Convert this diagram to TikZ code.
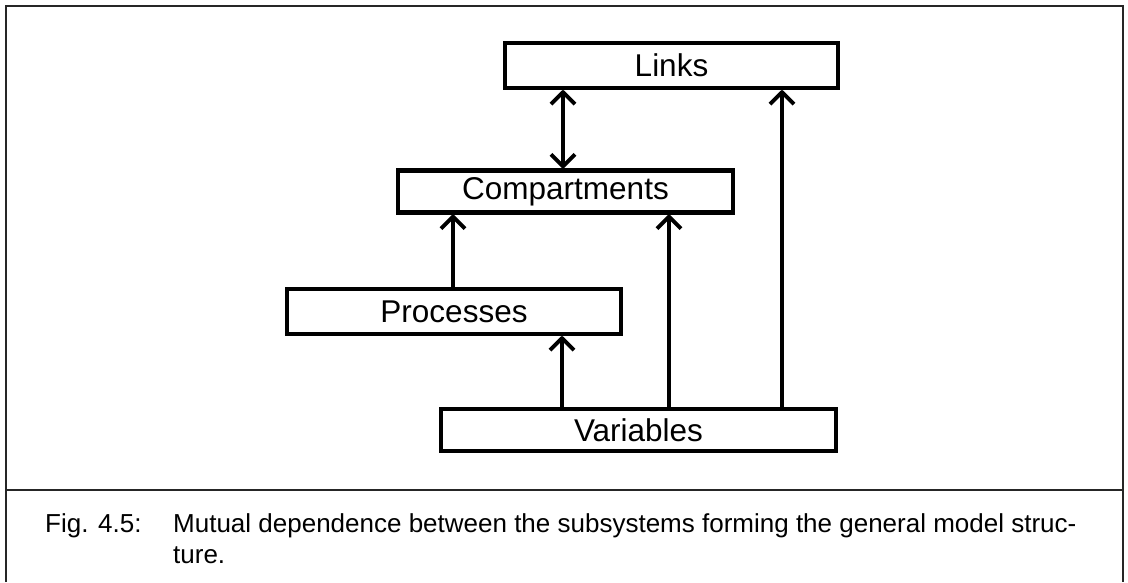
\documentclass[tikz,border=0pt]{standalone}
\usepackage{fontspec}
\setmainfont{Liberation Sans}
\usetikzlibrary{arrows.meta}
\begin{document}
\begin{tikzpicture}[x=1pt,y=-1pt,
  frame/.style={line width=1.8pt,black!85},
  subsys/.style={draw,line width=4.2pt,rectangle,inner sep=0pt,
    font=\fontsize{31.5}{35}\selectfont},
  barb/.tip={Straight Barb[length=12pt,width=24pt,line join=round]},
  dep/.style={line width=4pt,-barb},
  mutual/.style={line width=4pt,barb-barb},
  captext/.style={inner sep=0pt,anchor=base west,font=\fontsize{26}{31}\selectfont}]
  \useasboundingbox (0,0) rectangle (1128,582);
  % outer frame and caption divider
  \draw[frame] (6,582) -- (6,6) -- (1123,6) -- (1123,582);
  \draw[frame] (6,490) -- (1123,490);

  % subsystem boxes
  \node[subsys,minimum width=333pt,minimum height=45pt] (links) at (671.5,65.5) {Links};
  \node[subsys,minimum width=335pt,minimum height=42pt] (comp) at (565.5,191.5) {Compartments};
  \node[subsys,minimum width=334pt,minimum height=45pt] (proc) at (454,311.5) {Processes};
  \node[subsys,minimum width=395pt,minimum height=42pt] (vars) at (638.5,430) {Variables};

  % x positions of the connectors
  \coordinate (xa) at (563,0);
  \coordinate (xb) at (453,0);
  \coordinate (xc) at (562,0);
  \coordinate (xd) at (669,0);
  \coordinate (xe) at (782,0);

  % dependences
  \draw[mutual] (comp.north -| xa) -- (links.south -| xa);
  \draw[dep] (proc.north -| xb) -- (comp.south -| xb);
  \draw[dep] (vars.north -| xc) -- (proc.south -| xc);
  \draw[dep] (vars.north -| xd) -- (comp.south -| xd);
  \draw[dep] (vars.north -| xe) -- (links.south -| xe);

  % caption
  \node[captext] (figno) at (45,532) {Fig. 4.5:};
  \node[captext] (capa) at (173,532) {Mutual dependence between the subsystems forming the general model struc-};
  \node[captext] (capb) at (173,563) {ture.};
\end{tikzpicture}
\end{document}
